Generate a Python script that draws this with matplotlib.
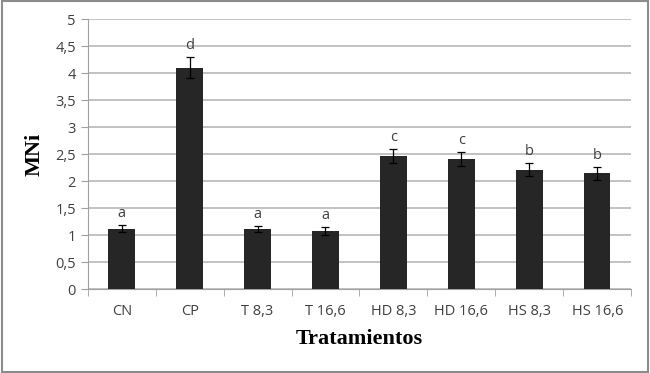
import matplotlib
matplotlib.use("Agg")
import matplotlib.pyplot as plt
import numpy as np
from matplotlib.patches import Rectangle

# datos
tratamientos = ["CN", "CP", "T 8,3", "T 16,6", "HD 8,3", "HD 16,6", "HS 8,3", "HS 16,6"]
mni = [1.12, 4.10, 1.11, 1.08, 2.46, 2.40, 2.21, 2.14]
error = [0.07, 0.20, 0.06, 0.07, 0.13, 0.13, 0.12, 0.12]
letras = ["a", "d", "a", "a", "c", "c", "b", "b"]

fig = plt.figure(figsize=(6.5, 3.73), dpi=100)
ax = fig.add_axes([0.135, 0.225, 0.836, 0.724])

x = np.arange(len(tratamientos))
ax.bar(x, mni, width=0.39, color='#262626', zorder=3)
ax.errorbar(x, mni, yerr=error, fmt='none', ecolor='k', elinewidth=0.9,
            capsize=3, capthick=0.9, zorder=4)

for xi, v, e, l in zip(x, mni, error, letras):
    ax.annotate(l, (xi, v + e), xytext=(0, 3), textcoords='offset points',
                ha='center', va='bottom', fontsize=10.5, color='#404040',
                family='Open Sans')

ax.set_ylim(0, 5)
ax.set_xlim(-0.5, len(tratamientos) - 0.5)
ax.set_yticks(np.arange(0, 5.01, 0.5))
ax.set_yticklabels([("%g" % t).replace(".", ",") for t in np.arange(0, 5.01, 0.5)])
ax.set_xticks(x)
ax.set_xticklabels(tratamientos)
ax.set_xticks(np.arange(-0.5, len(tratamientos)), minor=True)
ax.tick_params(axis='x', which='major', length=0, pad=11, labelsize=10.5, labelcolor='#404040')
ax.tick_params(axis='x', which='minor', length=5, color='#a0a0a0', direction='out')
ax.tick_params(axis='y', length=5, color='#a0a0a0', labelsize=10.5, labelcolor='#404040')
for lab in ax.get_xticklabels() + ax.get_yticklabels():
    lab.set_family('Open Sans')

ax.grid(axis='y', color='#b8b8b8', linewidth=1.2, zorder=0)
ax.spines['top'].set_visible(False)
ax.spines['right'].set_visible(False)
ax.spines['left'].set_color('#a0a0a0')
ax.spines['bottom'].set_color('#a0a0a0')

ax.set_ylabel("MNi", family='Liberation Serif', fontweight='bold', fontsize=16, labelpad=8)
ax.set_xlabel("Tratamientos", family='Liberation Serif', fontweight='bold', fontsize=16, labelpad=7)

fig.patches.append(Rectangle((0.003, 0.004), 0.994, 0.992, transform=fig.transFigure,
                             fill=False, edgecolor='#8c8c8c', linewidth=1.5))

plt.savefig("out.png", dpi=100)
